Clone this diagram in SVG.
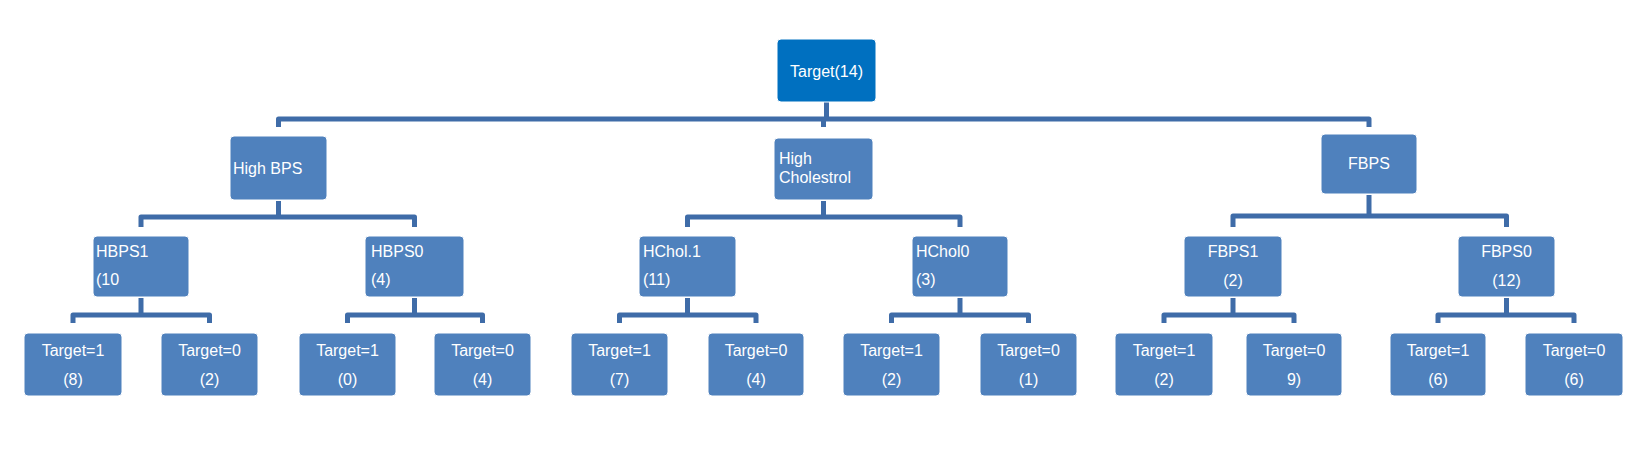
<svg xmlns="http://www.w3.org/2000/svg" width="1634" height="458" viewBox="0 0 1634 458">
<style>
.node rect{fill:#4f81bd;stroke:#ffffff;stroke-width:1}
#root rect{fill:#0070c0}
text{font-family:"Liberation Sans",Arial,sans-serif;font-size:16px;fill:#ffffff}
.c{text-anchor:middle}
#connectors path{fill:none;stroke:#3f6ca8;stroke-width:5;stroke-linejoin:round;stroke-linecap:butt}
</style>
<rect width="1634" height="458" fill="#ffffff"/>
<g id="connectors">
<path d="M826.5,102 V119"/>
<path d="M278.5,127 V119 H1369 V127"/>
<path d="M823.5,119 V127"/>
<path d="M278.5,201 V217"/>
<path d="M141,227 V217 H414.5 V227"/>
<path d="M823.5,201 V217"/>
<path d="M687.5,227 V217 H960 V227"/>
<path d="M1369,195 V216"/>
<path d="M1233,227 V216 H1506.5 V227"/>
<path d="M141,298 V315"/>
<path d="M73,323 V315 H209.5 V323"/>
<path d="M414.5,298 V315"/>
<path d="M347.5,323 V315 H482.5 V323"/>
<path d="M687.5,298 V315"/>
<path d="M619.5,323 V315 H756 V323"/>
<path d="M960,298 V315"/>
<path d="M891.5,323 V315 H1028.5 V323"/>
<path d="M1233,298 V315"/>
<path d="M1164,323 V315 H1294 V323"/>
<path d="M1506.5,298 V315"/>
<path d="M1438,323 V315 H1574 V323"/>
</g>
<g id="root" class="node"><rect x="777" y="39" width="99" height="63" rx="4"/><text class="c" x="826.5" y="77">Target(14)</text></g>
<g id="high-bps" class="node"><rect x="230" y="136" width="97" height="64" rx="4"/><text x="233" y="174">High BPS</text></g>
<g id="high-cholestrol" class="node"><rect x="774" y="138" width="99" height="62" rx="4"/><text x="779" y="164">High</text><text x="779" y="183">Cholestrol</text></g>
<g id="fbps" class="node"><rect x="1321" y="134" width="96" height="60" rx="4"/><text class="c" x="1369" y="169">FBPS</text></g>
<g id="hbps1" class="node"><rect x="93" y="236" width="96" height="61" rx="4"/><text x="96" y="257">HBPS1</text><text x="96" y="285">(10</text></g>
<g id="hbps0" class="node"><rect x="365" y="236" width="99" height="61" rx="4"/><text x="371" y="257">HBPS0</text><text x="371" y="285">(4)</text></g>
<g id="hchol1" class="node"><rect x="639" y="236" width="97" height="61" rx="4"/><text x="643" y="257">HChol.1</text><text x="643" y="285">(11)</text></g>
<g id="hchol0" class="node"><rect x="912" y="236" width="96" height="61" rx="4"/><text x="916" y="257">HChol0</text><text x="916" y="285">(3)</text></g>
<g id="fbps1" class="node"><rect x="1184" y="236" width="98" height="61" rx="4"/><text class="c" x="1233" y="257">FBPS1</text><text class="c" x="1233" y="286">(2)</text></g>
<g id="fbps0" class="node"><rect x="1458" y="236" width="97" height="61" rx="4"/><text class="c" x="1506.5" y="257">FBPS0</text><text class="c" x="1506.5" y="286">(12)</text></g>
<g id="leaf1" class="node"><rect x="24" y="333" width="98" height="63" rx="4"/><text class="c" x="73" y="356">Target=1</text><text class="c" x="73" y="385">(8)</text></g>
<g id="leaf2" class="node"><rect x="161" y="333" width="97" height="63" rx="4"/><text class="c" x="209.5" y="356">Target=0</text><text class="c" x="209.5" y="385">(2)</text></g>
<g id="leaf3" class="node"><rect x="299" y="333" width="97" height="63" rx="4"/><text class="c" x="347.5" y="356">Target=1</text><text class="c" x="347.5" y="385">(0)</text></g>
<g id="leaf4" class="node"><rect x="434" y="333" width="97" height="63" rx="4"/><text class="c" x="482.5" y="356">Target=0</text><text class="c" x="482.5" y="385">(4)</text></g>
<g id="leaf5" class="node"><rect x="571" y="333" width="97" height="63" rx="4"/><text class="c" x="619.5" y="356">Target=1</text><text class="c" x="619.5" y="385">(7)</text></g>
<g id="leaf6" class="node"><rect x="708" y="333" width="96" height="63" rx="4"/><text class="c" x="756" y="356">Target=0</text><text class="c" x="756" y="385">(4)</text></g>
<g id="leaf7" class="node"><rect x="843" y="333" width="97" height="63" rx="4"/><text class="c" x="891.5" y="356">Target=1</text><text class="c" x="891.5" y="385">(2)</text></g>
<g id="leaf8" class="node"><rect x="980" y="333" width="97" height="63" rx="4"/><text class="c" x="1028.5" y="356">Target=0</text><text class="c" x="1028.5" y="385">(1)</text></g>
<g id="leaf9" class="node"><rect x="1115" y="333" width="98" height="63" rx="4"/><text class="c" x="1164" y="356">Target=1</text><text class="c" x="1164" y="385">(2)</text></g>
<g id="leaf10" class="node"><rect x="1246" y="333" width="96" height="63" rx="4"/><text class="c" x="1294" y="356">Target=0</text><text class="c" x="1294" y="385">9)</text></g>
<g id="leaf11" class="node"><rect x="1390" y="333" width="96" height="63" rx="4"/><text class="c" x="1438" y="356">Target=1</text><text class="c" x="1438" y="385">(6)</text></g>
<g id="leaf12" class="node"><rect x="1525" y="333" width="98" height="63" rx="4"/><text class="c" x="1574" y="356">Target=0</text><text class="c" x="1574" y="385">(6)</text></g>
</svg>
